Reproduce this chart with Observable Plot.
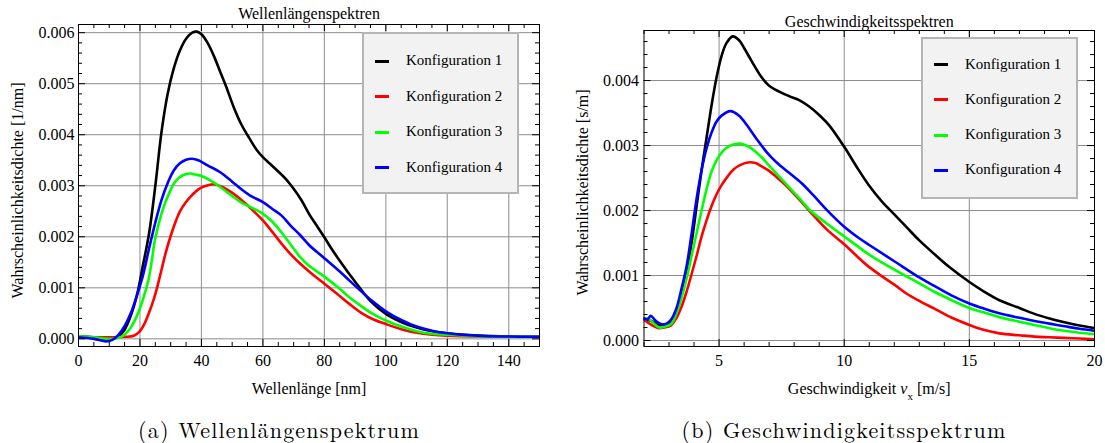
<!DOCTYPE html>
<html>
<head>
<meta charset="utf-8">
<script src="https://cdn.jsdelivr.net/npm/d3@7"></script>
<script src="https://cdn.jsdelivr.net/npm/@observablehq/plot@0.6"></script>
<style>
  body { margin: 0; background: #fff; }
  #fig { position: relative; width: 1105px; height: 443px; background: #fff; font-family: "Liberation Serif", serif; color: #000; }
  .panel { position: absolute; top: 0; }
  .legend { position: absolute; background: #f2f2f2; border: 2px solid #b5b5b5; box-sizing: border-box; }
  .legend .row { position: absolute; left: 0; height: 0; }
  .legend .swatch { position: absolute; width: 14px; height: 3px; top: -1.5px; }
  .legend .label { position: absolute; top: 0; transform: translateY(-55%); font-size: 15px; white-space: nowrap; }
  .caption { position: absolute; top: 428px; transform: translate(-50%, -50%); font-family: "Latin Modern Roman", "Liberation Serif", serif; font-size: 22px; letter-spacing: 1.2px; white-space: nowrap; }
</style>
</head>
<body>
<div id="fig"></div>
<script>
// Densities are listed in units of 10^-3 (per nm, resp. s/m).
const PER_MILLE = 1e-3;
const SERIF = '"Liberation Serif", serif';

const configs = ["Konfiguration 1", "Konfiguration 2", "Konfiguration 3", "Konfiguration 4"];
const colors = ["#000000", "#ff0000", "#00ff00", "#0000ff"];

// ---- Wellenlängenspektren: wavelength [nm] and density [10^-3 / nm]
const waveX_k1 = [0, 5, 10, 13, 15, 17, 19, 21, 23, 25, 27, 29, 31, 33, 35, 37, 38.5, 40, 42, 44, 46, 48, 50.5, 53, 55, 58, 60, 62.5, 65, 67.5, 70, 72.5, 75, 77.5, 80, 82.5, 85, 87.5, 90, 92.5, 95, 100, 105, 110, 115, 120, 130, 140, 150];
const waveY_k1 = [0.05, 0.03, -0.02, 0.05, 0.18, 0.45, 0.85, 1.45, 2.08, 3.00, 4.05, 4.80, 5.30, 5.65, 5.88, 6.00, 6.02, 5.97, 5.80, 5.55, 5.25, 4.95, 4.54, 4.20, 3.99, 3.70, 3.56, 3.42, 3.28, 3.13, 2.94, 2.72, 2.45, 2.22, 1.99, 1.75, 1.53, 1.32, 1.12, 0.92, 0.74, 0.49, 0.33, 0.22, 0.15, 0.11, 0.065, 0.045, 0.04];

const waveX_k2 = [0, 5, 10, 15, 18, 20, 21.5, 23, 24.5, 25.6, 27, 28.3, 30, 31.5, 33, 35, 37, 39, 41, 44, 47, 50.5, 53, 56, 60, 63, 66, 69, 72, 76, 80, 84, 88, 92, 96, 100, 105, 110, 115, 120, 130, 140, 150];
const waveY_k2 = [0.04, 0.03, 0.03, 0.04, 0.06, 0.15, 0.30, 0.52, 0.78, 1.01, 1.35, 1.67, 2.02, 2.28, 2.50, 2.68, 2.82, 2.93, 2.99, 3.03, 2.97, 2.84, 2.72, 2.56, 2.32, 2.10, 1.87, 1.66, 1.48, 1.27, 1.08, 0.89, 0.69, 0.51, 0.38, 0.29, 0.19, 0.12, 0.08, 0.06, 0.045, 0.04, 0.04];

const waveX_k3 = [0, 5, 10, 13, 15, 17, 19, 21, 23, 24, 25, 27, 28.3, 30, 31, 33, 35, 36.5, 38, 40, 43, 46, 50, 53, 56, 60, 63, 66, 69, 72, 75, 80, 85, 88, 92, 96, 100, 105, 110, 115, 120, 130, 140, 150];
const waveY_k3 = [0.05, 0.03, 0.0, 0.02, 0.08, 0.22, 0.45, 0.78, 1.22, 1.60, 1.98, 2.45, 2.68, 2.92, 3.04, 3.17, 3.23, 3.24, 3.22, 3.19, 3.10, 2.98, 2.80, 2.67, 2.58, 2.45, 2.30, 2.09, 1.85, 1.61, 1.43, 1.22, 0.98, 0.82, 0.64, 0.48, 0.36, 0.24, 0.15, 0.10, 0.08, 0.05, 0.04, 0.04];

const waveX_k4 = [0, 5, 9, 11, 13, 15, 17, 19, 21, 23, 25, 27, 29, 31, 33, 35, 37, 39, 42, 46, 50, 53, 56, 60, 63, 66, 69, 72, 75, 80, 85, 88, 92, 96, 100, 105, 110, 115, 120, 130, 140, 150];
const waveY_k4 = [0.03, 0.0, -0.05, -0.02, 0.08, 0.25, 0.50, 0.85, 1.25, 1.78, 2.28, 2.72, 3.05, 3.30, 3.44, 3.51, 3.53, 3.50, 3.40, 3.27, 3.08, 2.93, 2.80, 2.68, 2.55, 2.42, 2.22, 2.04, 1.84, 1.58, 1.32, 1.15, 0.93, 0.72, 0.54, 0.37, 0.24, 0.16, 0.11, 0.06, 0.045, 0.04];

// ---- Geschwindigkeitsspektren: velocity v_x [m/s] and density [10^-3 s/m]
const velX_k1 = [2.0, 2.3, 2.6, 2.9, 3.1, 3.3, 3.5, 3.7, 3.9, 4.1, 4.3, 4.5, 4.7, 4.9, 5.1, 5.3, 5.55, 5.8, 6.0, 6.3, 6.7, 7.0, 7.4, 7.8, 8.2, 8.6, 9.0, 9.4, 10, 10.5, 11, 11.5, 12, 12.5, 13, 13.6, 14.2, 15, 15.6, 16.2, 17, 17.6, 18.2, 18.8, 19.4, 20];
const velY_k1 = [0.33, 0.30, 0.24, 0.25, 0.30, 0.44, 0.72, 1.06, 1.50, 2.06, 2.62, 3.12, 3.62, 4.05, 4.38, 4.58, 4.68, 4.62, 4.50, 4.30, 4.05, 3.92, 3.83, 3.76, 3.70, 3.60, 3.47, 3.31, 2.98, 2.67, 2.38, 2.14, 1.94, 1.74, 1.54, 1.33, 1.13, 0.90, 0.75, 0.62, 0.50, 0.41, 0.34, 0.28, 0.23, 0.19];

const velX_k2 = [2.0, 2.3, 2.6, 2.8, 3.07, 3.3, 3.5, 3.7, 3.9, 4.1, 4.3, 4.5, 4.7, 4.9, 5.1, 5.35, 5.6, 5.9, 6.15, 6.45, 6.7, 7.0, 7.6, 7.84, 8.3, 8.64, 9.3, 10, 10.5, 10.9, 11.5, 12, 12.5, 13, 13.6, 14.3, 15, 15.6, 16.2, 17, 17.6, 18.2, 18.8, 19.4, 20];
const velY_k2 = [0.32, 0.24, 0.19, 0.20, 0.23, 0.35, 0.52, 0.75, 1.02, 1.30, 1.60, 1.85, 2.07, 2.25, 2.39, 2.53, 2.64, 2.71, 2.74, 2.73, 2.68, 2.61, 2.41, 2.32, 2.13, 1.98, 1.71, 1.48, 1.30, 1.16, 0.99, 0.86, 0.72, 0.61, 0.49, 0.35, 0.24, 0.16, 0.11, 0.08, 0.06, 0.05, 0.04, 0.03, 0.02];

const velX_k3 = [2.0, 2.2, 2.4, 2.6, 2.8, 3.07, 3.3, 3.5, 3.7, 3.9, 4.1, 4.3, 4.5, 4.7, 4.9, 5.1, 5.4, 5.8, 6.2, 6.7, 7.0, 7.6, 7.84, 8.3, 8.64, 9.3, 10, 10.5, 11, 12, 13, 13.6, 14.3, 15, 15.6, 16.2, 17, 17.6, 18.2, 18.8, 19.4, 20];
const velY_k3 = [0.34, 0.33, 0.26, 0.20, 0.21, 0.25, 0.42, 0.66, 0.95, 1.30, 1.65, 2.00, 2.33, 2.60, 2.77, 2.89, 2.99, 3.03, 2.98, 2.82, 2.69, 2.44, 2.34, 2.15, 2.00, 1.80, 1.60, 1.46, 1.32, 1.09, 0.88, 0.75, 0.62, 0.50, 0.43, 0.36, 0.29, 0.24, 0.19, 0.15, 0.12, 0.10];

const velX_k4 = [2.0, 2.15, 2.27, 2.45, 2.7, 2.9, 3.1, 3.3, 3.5, 3.7, 3.9, 4.1, 4.3, 4.5, 4.7, 4.9, 5.1, 5.45, 5.8, 6.1, 6.5, 6.9, 7.3, 7.8, 8.3, 8.8, 9.3, 10, 10.5, 11, 12, 13, 13.6, 14.3, 15, 15.6, 16.2, 17, 17.6, 18.2, 18.8, 19.4, 20];
const velY_k4 = [0.34, 0.33, 0.38, 0.31, 0.25, 0.26, 0.33, 0.50, 0.80, 1.14, 1.64, 2.18, 2.62, 2.96, 3.20, 3.37, 3.46, 3.53, 3.46, 3.32, 3.10, 2.90, 2.74, 2.58, 2.42, 2.22, 2.01, 1.75, 1.60, 1.47, 1.22, 0.97, 0.84, 0.69, 0.57, 0.49, 0.42, 0.35, 0.30, 0.26, 0.22, 0.18, 0.15];

// ---- axis ticks and texts
const waveTicksX = [0, 20, 40, 60, 80, 100, 120, 140];
const waveTicksY = [0, 0.001, 0.002, 0.003, 0.004, 0.005, 0.006];
const velTicksX = [5, 10, 15, 20];
const velTicksY = [0, 0.001, 0.002, 0.003, 0.004];

const waveTitle = "Wellenlängenspektren";
const waveXLabel = "Wellenlänge [nm]";
const waveYLabel = "Wahrscheinlichkeitsdichte [1/nm]";
const velTitle = "Geschwindigkeitsspektren";
const velXLabelParts = [["Geschwindigkeit ", "normal"], ["v", "italic"], ["x", "sub"], [" [m/s]", "normal"]];
const velYLabel = "Wahrscheinlichkeitsdichte [s/m]";
const captions = ["(a) Wellenlängenspektrum", "(b) Geschwindigkeitsspektrum"];

function toRows(pairs) {
  return pairs.flatMap(([xs, ys], i) => xs.map((x, j) => ({x, y: ys[j] * PER_MILLE, k: configs[i]})));
}

function panel(o) {
  const ph = o.height - o.marginTop - o.marginBottom;
  const pw = o.width - o.marginLeft - o.marginRight;
  const eps = 1e-9;
  const notMajor = (ticks) => (v) => !ticks.some((t) => Math.abs(t - v) < eps);
  const xMinor = d3.range(o.xDomain[0], o.xDomain[1] + eps, o.xMinorStep).filter(notMajor(o.xTicks));
  const yMinor = d3.range(0, o.yDomain[1], o.yMinorStep).filter(notMajor(o.yTicks));
  const xGrid = o.xTicks.filter((v) => v > o.xDomain[0] + eps && v < o.xDomain[1] - eps);
  const majorLen = 7, minorLen = 4;
  const tickStyle = {stroke: "black", strokeWidth: 1};
  const textStyle = {text: (d) => d, fontSize: 16, textAnchor: "middle", lineAnchor: "middle"};

  const svg = Plot.plot({
    width: o.width,
    height: o.height,
    marginLeft: o.marginLeft,
    marginRight: o.marginRight,
    marginTop: o.marginTop,
    marginBottom: o.marginBottom,
    x: {domain: o.xDomain},
    y: {domain: o.yDomain},
    color: {domain: configs, range: colors},
    style: {fontFamily: SERIF, fontSize: "16px", background: "white", color: "black", overflow: "visible"},
    marks: [
      Plot.ruleX(xGrid, {stroke: "#a0a0a0", strokeWidth: 1.2}),
      Plot.ruleY(o.yTicks, {stroke: "#8c8c8c", strokeWidth: 1}),
      Plot.line(o.data, {x: "x", y: "y", z: "k", stroke: "k", strokeWidth: 2.6, curve: "catmull-rom", clip: true}),
      Plot.frame({stroke: "black", strokeWidth: 1}),
      // frame ticks pointing inward on all four sides
      Plot.tickX(o.xTicks, {...tickStyle, insetTop: ph - majorLen}),
      Plot.tickX(o.xTicks, {...tickStyle, insetBottom: ph - majorLen}),
      Plot.tickX(xMinor, {...tickStyle, insetTop: ph - minorLen}),
      Plot.tickX(xMinor, {...tickStyle, insetBottom: ph - minorLen}),
      Plot.tickY(o.yTicks, {...tickStyle, insetRight: pw - majorLen}),
      Plot.tickY(o.yTicks, {...tickStyle, insetLeft: pw - majorLen}),
      Plot.tickY(yMinor, {...tickStyle, insetRight: pw - minorLen}),
      Plot.tickY(yMinor, {...tickStyle, insetLeft: pw - minorLen}),
      Plot.axisX({ticks: o.xTicks, tickSize: 0, tickPadding: 8, fontSize: 16, label: null}),
      Plot.axisY({ticks: o.yTicks, tickSize: 0, tickPadding: o.yTickPadding, tickFormat: d3.format(".3f"), fontSize: 16, label: null}),
      Plot.text([o.title], {...textStyle, frameAnchor: "top", dy: o.titleDy}),
      Plot.text([o.xLabel], {...textStyle, frameAnchor: "bottom", dy: 42}),
      Plot.text([o.yLabel], {...textStyle, frameAnchor: "left", dx: o.yLabelDx, dy: o.yLabelDy, rotate: -90})
    ]
  });

  // rich x label (italic symbol with subscript)
  if (o.xLabelParts) {
    d3.select(svg).selectAll("text")
      .filter(function () { return this.textContent === o.xLabel; })
      .each(function () {
        const t = d3.select(this).text(null);
        for (const [s, kind] of o.xLabelParts) {
          const span = t.append("tspan").text(s);
          if (kind === "italic") span.attr("font-style", "italic");
          if (kind === "sub") span.attr("font-size", 11).attr("baseline-shift", "sub");
        }
      });
  }
  return svg;
}

function legend(left, top, rowTop, rowGap) {
  const box = document.createElement("div");
  box.className = "legend";
  Object.assign(box.style, {left: left + "px", top: top + "px", width: "157px", height: "162px"});
  configs.forEach((name, i) => {
    const row = document.createElement("div");
    row.className = "row";
    row.style.top = rowTop + i * rowGap + "px";
    const sw = document.createElement("div");
    sw.className = "swatch";
    sw.style.left = "11px";
    sw.style.background = colors[i];
    const lab = document.createElement("div");
    lab.className = "label";
    lab.style.left = "42px";
    lab.textContent = name;
    row.append(sw, lab);
    box.append(row);
  });
  return box;
}

const fig = document.getElementById("fig");

const waveData = toRows([[waveX_k1, waveY_k1], [waveX_k2, waveY_k2], [waveX_k3, waveY_k3], [waveX_k4, waveY_k4]]);
const velData = toRows([[velX_k1, velY_k1], [velX_k2, velY_k2], [velX_k3, velY_k3], [velX_k4, velY_k4]]);

const left = panel({
  data: waveData, width: 550, height: 400,
  marginLeft: 78, marginRight: 11, marginTop: 24, marginBottom: 54,
  xDomain: [0, 150], yDomain: [-0.00015, 0.00616],
  xTicks: waveTicksX, yTicks: waveTicksY, xMinorStep: 5, yMinorStep: 0.0002,
  yTickPadding: 4, title: waveTitle, titleDy: -11,
  xLabel: waveXLabel, yLabel: waveYLabel, yLabelDx: -61, yLabelDy: 5
});
const right = panel({
  data: velData, width: 555, height: 400,
  marginLeft: 93.5, marginRight: 11, marginTop: 30, marginBottom: 54,
  xDomain: [2, 20], yDomain: [-0.000092, 0.00477],
  xTicks: velTicksX, yTicks: velTicksY, xMinorStep: 1, yMinorStep: 0.0002,
  yTickPadding: 5, title: velTitle, titleDy: -9,
  xLabel: velXLabelParts.map((p) => p[0]).join(""), xLabelParts: velXLabelParts,
  yLabel: velYLabel, yLabelDx: -61.5, yLabelDy: 4
});

const wrapL = document.createElement("div");
wrapL.className = "panel"; wrapL.style.left = "0px"; wrapL.append(left);
const wrapR = document.createElement("div");
wrapR.className = "panel"; wrapR.style.left = "550px"; wrapR.append(right);
fig.append(wrapL, wrapR);

fig.append(legend(362, 32, 27, 35.6));
fig.append(legend(921, 37, 25.5, 35.3));

[[captions[0], 279], [captions[1], 844]].forEach(([txt, cx]) => {
  const c = document.createElement("div");
  c.className = "caption";
  c.style.left = cx + "px";
  c.textContent = txt;
  fig.append(c);
});
</script>
</body>
</html>
